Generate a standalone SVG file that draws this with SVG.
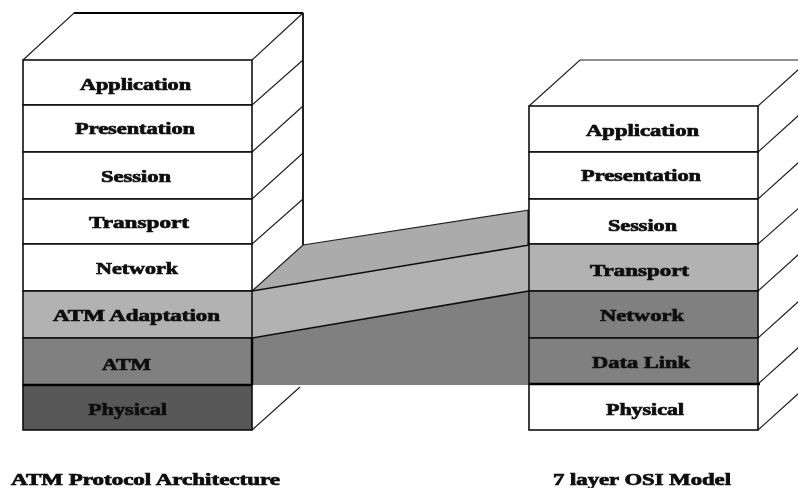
<svg xmlns="http://www.w3.org/2000/svg" width="798" height="488" viewBox="0 0 798 488">
<defs>
<filter id="soft" x="-2%" y="-2%" width="104%" height="104%"><feGaussianBlur stdDeviation="0.4"/></filter>
</defs>
<style>
.w{fill:#fff}
.a{fill:#b2b2b2}
.g{fill:#808080}
.d{fill:#595959}
g rect{stroke:#111;stroke-width:1.6}
.e{fill:none;stroke:#222;stroke-width:1.2}
.b{stroke:none}
.bl{fill:none;stroke:#111;stroke-width:1.6}
text{font-family:"Liberation Serif","Times New Roman",serif;font-weight:bold;font-size:16px;fill:#111;stroke:#111;stroke-width:.7;text-anchor:start}
</style>
<rect width="798" height="488" fill="#fff" stroke="none"/>
<g filter="url(#soft)">
<g id="stack-atm-frame">
<path class="e" d="M23 60L74 13H303V245M252 60L303 13M252 105L303 60M252 152L303 106M252 199L303 153M252 244L303 199M252 430L300 387"/>
<path d="M74 13H303" fill="none" stroke="#000" stroke-width="1.8"/>
<path d="M303 13V245" fill="none" stroke="#111" stroke-width="1.6"/>
</g>
<g id="stack-osi-frame">
<path class="e" d="M529 106L580 60H798M758 106L809 60M758 152L809 106M758 199L809 153M758 244L809 199M758 291L809 245M758 338L809 292M758 384L809 338M758 430L809 384"/>
</g>
<g id="connectors">
<polygon class="b" fill="#ababab" points="252,291 303,245 529,210 529,244"/>
<polygon class="b a" points="252,291 529,244 529,291 252,338"/>
<polygon class="b g" points="252,338 529,291 529,385 252,385"/>
<path class="e" d="M252 291L303 245L529 210"/>
<path class="bl" d="M252 291L529 245M252 338L529 291"/>
<path d="M528.500 210V245" fill="none" stroke="#000" stroke-width="2"/>
</g>
<g id="atm-application"><rect class="w" x="23" y="60" width="229" height="45"/><text x="80" y="90" textLength="111" lengthAdjust="spacingAndGlyphs">Application</text></g>
<g id="atm-presentation"><rect class="w" x="23" y="105" width="229" height="47"/><text x="75" y="134" textLength="120" lengthAdjust="spacingAndGlyphs">Presentation</text></g>
<g id="atm-session"><rect class="w" x="23" y="152" width="229" height="47"/><text x="101" y="182" textLength="70" lengthAdjust="spacingAndGlyphs">Session</text></g>
<g id="atm-transport"><rect class="w" x="23" y="199" width="229" height="45"/><text x="89" y="228" textLength="100" lengthAdjust="spacingAndGlyphs">Transport</text></g>
<g id="atm-network"><rect class="w" x="23" y="244" width="229" height="47"/><text x="96" y="274" textLength="82" lengthAdjust="spacingAndGlyphs">Network</text></g>
<g id="atm-adaptation"><rect class="a" x="23" y="291" width="229" height="47"/><text x="53" y="321" textLength="167" lengthAdjust="spacingAndGlyphs">ATM Adaptation</text></g>
<g id="atm-atm"><rect class="g" x="23" y="338" width="229" height="47"/><text x="102" y="370" textLength="49" lengthAdjust="spacingAndGlyphs">ATM</text></g>
<g id="atm-physical"><rect class="d" x="23" y="385" width="229" height="45"/><text x="88" y="415" textLength="79" lengthAdjust="spacingAndGlyphs">Physical</text></g>
<g id="osi-application"><rect class="w" x="529" y="106" width="229" height="46"/><text x="586" y="136" textLength="113" lengthAdjust="spacingAndGlyphs">Application</text></g>
<g id="osi-presentation"><rect class="w" x="529" y="152" width="229" height="47"/><text x="581" y="181" textLength="120" lengthAdjust="spacingAndGlyphs">Presentation</text></g>
<g id="osi-session"><rect class="w" x="529" y="199" width="229" height="45"/><text x="608" y="231" textLength="69" lengthAdjust="spacingAndGlyphs">Session</text></g>
<g id="osi-transport"><rect class="a" x="529" y="244" width="229" height="47"/><text x="590" y="276" textLength="99" lengthAdjust="spacingAndGlyphs">Transport</text></g>
<g id="osi-network"><rect class="g" x="529" y="291" width="229" height="47"/><text x="600" y="321" textLength="84" lengthAdjust="spacingAndGlyphs">Network</text></g>
<g id="osi-datalink"><rect class="g" x="529" y="338" width="229" height="46"/><text x="592" y="368" textLength="98" lengthAdjust="spacingAndGlyphs">Data Link</text></g>
<g id="osi-physical"><rect class="w" x="529" y="384" width="229" height="46"/><text x="606" y="415" textLength="78" lengthAdjust="spacingAndGlyphs">Physical</text></g>
<path d="M23 385H252M252 338V385M529 384H760" fill="none" stroke="#000" stroke-width="2.400"/>
<g id="captions">
<text x="11" y="485" textLength="269" lengthAdjust="spacingAndGlyphs">ATM Protocol Architecture</text>
<text x="553" y="485" textLength="178" lengthAdjust="spacingAndGlyphs">7 layer OSI Model</text>
</g>
</g>
</svg>
